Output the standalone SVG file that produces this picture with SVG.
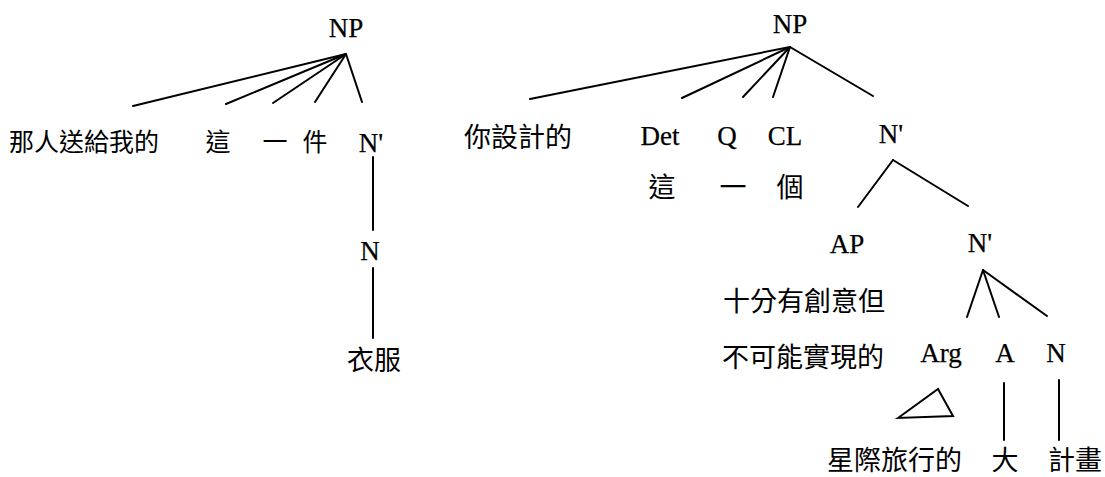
<svg xmlns="http://www.w3.org/2000/svg" width="1105" height="477" viewBox="0 0 1105 477">
<style>
.lat{font-family:"Liberation Serif","Times New Roman",serif;font-size:27px;fill:#000;stroke:#000;stroke-width:0.25;text-anchor:middle}
.cjk{font-family:"Noto Sans CJK TC","Noto Sans CJK SC",sans-serif;font-size:27px;fill:#000}
.sm{font-size:25px}
.m{text-anchor:middle}
.edges line,.edges polygon{stroke:#000;stroke-width:2;fill:none;stroke-linecap:round}
</style>
<rect width="1105" height="477" fill="#fff"/>
<g class="edges" id="connectors">
<line x1="346" y1="54" x2="133" y2="106"/>
<line x1="346" y1="54" x2="226" y2="104"/>
<line x1="346" y1="54" x2="273" y2="103"/>
<line x1="346" y1="54" x2="315" y2="102"/>
<line x1="346" y1="54" x2="362" y2="102"/>
<line x1="373" y1="157" x2="373" y2="230"/>
<line x1="373" y1="268" x2="373" y2="338"/>
<line x1="790" y1="47" x2="530" y2="99"/>
<line x1="790" y1="47" x2="682" y2="98"/>
<line x1="790" y1="47" x2="743" y2="97"/>
<line x1="790" y1="47" x2="773" y2="97"/>
<line x1="790" y1="47" x2="873" y2="96"/>
<line x1="893" y1="160" x2="858" y2="207"/>
<line x1="893" y1="160" x2="968" y2="206"/>
<line x1="983" y1="270" x2="967" y2="317"/>
<line x1="983" y1="270" x2="999" y2="317"/>
<line x1="983" y1="270" x2="1047" y2="316"/>
<polygon points="898,418 938,389 953,416"/>
<line x1="1004" y1="383" x2="1004" y2="440"/>
<line x1="1059" y1="380" x2="1059" y2="440"/>
</g>
<g id="n-np1"><text class="lat" x="346" y="37">NP</text></g>
<g id="n-rel1"><text class="cjk sm" x="9" y="151">那人送給我的</text></g>
<g id="n-zhe1"><text class="cjk sm m" x="218" y="151">這</text></g>
<g id="n-yi1"><text class="cjk sm m" x="275" y="151">一</text></g>
<g id="n-jian"><text class="cjk sm m" x="315" y="151">件</text></g>
<g id="n-nbar1"><text class="lat" x="371" y="152">N'</text></g>
<g id="n-n1"><text class="lat" x="370" y="260">N</text></g>
<g id="n-yifu"><text class="cjk m" x="374" y="370">衣服</text></g>
<g id="n-np2"><text class="lat" x="790" y="33">NP</text></g>
<g id="n-rel2"><text class="cjk" x="464" y="147">你設計的</text></g>
<g id="n-det"><text class="lat" x="660" y="145">Det</text></g>
<g id="n-q"><text class="lat" x="727" y="145">Q</text></g>
<g id="n-cl"><text class="lat" x="785" y="145">CL</text></g>
<g id="n-nbar2"><text class="lat" x="891" y="143">N'</text></g>
<g id="n-zhe2"><text class="cjk m" x="662" y="197">這</text></g>
<g id="n-yi2"><text class="cjk m" x="733" y="197">一</text></g>
<g id="n-ge"><text class="cjk m" x="790" y="197">個</text></g>
<g id="n-ap"><text class="lat" x="847" y="253">AP</text></g>
<g id="n-nbar3"><text class="lat" x="980" y="252">N'</text></g>
<g id="n-ap-text"><text class="cjk" x="723" y="311">十分有創意但</text><text class="cjk" x="722" y="367">不可能實現的</text></g>
<g id="n-arg"><text class="lat" x="941" y="362">Arg</text></g>
<g id="n-a"><text class="lat" x="1005" y="362">A</text></g>
<g id="n-n2"><text class="lat" x="1056" y="362">N</text></g>
<g id="n-xingji"><text class="cjk" x="827" y="470">星際旅行的</text></g>
<g id="n-da"><text class="cjk m" x="1005" y="470">大</text></g>
<g id="n-jihua"><text class="cjk m" x="1075" y="470">計畫</text></g>
</svg>
